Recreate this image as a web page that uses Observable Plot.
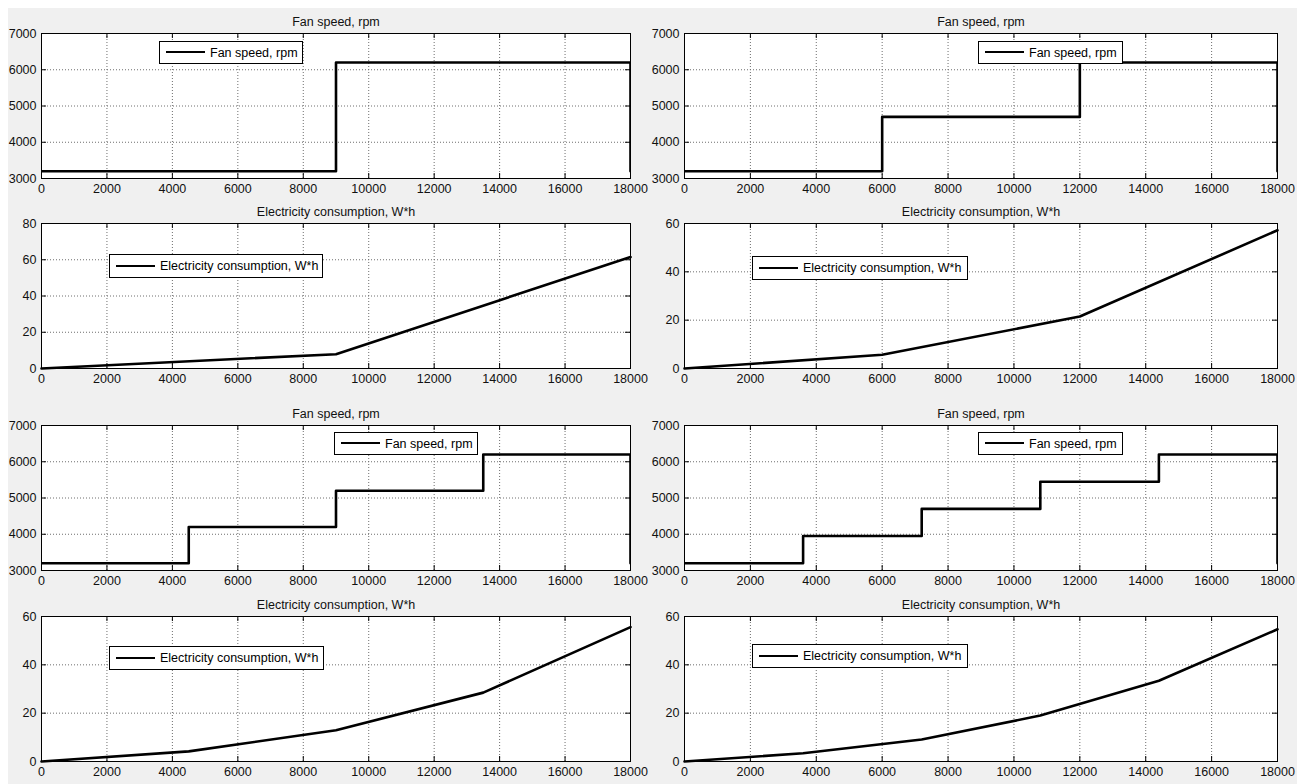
<!DOCTYPE html>
<html>
<head>
<meta charset="utf-8">
<script src="https://cdn.jsdelivr.net/npm/d3@7"></script>
<script src="https://cdn.jsdelivr.net/npm/@observablehq/plot@0.6"></script>
<style>
  html, body { margin: 0; padding: 0; background: #fff; }
  #page { position: relative; width: 1297px; height: 784px; overflow: hidden; background: #fff; }
  #bg { position: absolute; left: 8px; top: 8px; right: 0; bottom: 0; background: #f0f0f0; }
  .panel { position: absolute; }
  .legend { position: absolute; box-sizing: border-box; border: 1px solid #000; background: #fff;
            font: 12.5px "Liberation Sans", Arial, sans-serif; color: #000; }
  .legend .sw { position: absolute; left: 6px; width: 39px; top: 50%; height: 0;
                border-top: 2.5px solid #000; margin-top: -1.25px; }
  .legend .tx { position: absolute; left: 50px; top: 50%; transform: translateY(-52%);
                white-space: nowrap; line-height: 1; }
</style>
</head>
<body>
<div id="page"><div id="bg"></div></div>
<script>
// ---------- data ----------
const xTicks = [0, 2000, 4000, 6000, 8000, 10000, 12000, 14000, 16000, 18000];
const fanTicks = [3000, 4000, 5000, 6000, 7000];
const elecTicks80 = [0, 20, 40, 60, 80];
const elecTicks60 = [0, 20, 40, 60];

const fanTitle = "Fan speed, rpm";
const elecTitle = "Electricity consumption, W*h";

// Fan speed (step profiles)
const fan1X = [0, 9000, 9000, 18000, 18000];
const fan1Y = [3200, 3200, 6200, 6200, 3200];
const fan2X = [0, 6000, 6000, 12000, 12000, 18000, 18000];
const fan2Y = [3200, 3200, 4700, 4700, 6200, 6200, 3200];
const fan3X = [0, 4500, 4500, 9000, 9000, 13500, 13500, 18000, 18000];
const fan3Y = [3200, 3200, 4200, 4200, 5200, 5200, 6200, 6200, 3200];
const fan4X = [0, 3600, 3600, 7200, 7200, 10800, 10800, 14400, 14400, 18000, 18000];
const fan4Y = [3200, 3200, 3950, 3950, 4700, 4700, 5450, 5450, 6200, 6200, 3200];

// Electricity consumption (cumulative)
const elec1X = [0, 9000, 18000];
const elec1Y = [0, 7.9, 61.5];
const elec2X = [0, 6000, 12000, 18000];
const elec2Y = [0, 5.7, 21.5, 57.2];
const elec3X = [0, 4500, 9000, 13500, 18000];
const elec3Y = [0, 4.2, 12.9, 28.5, 55.6];
const elec4X = [0, 3600, 7200, 10800, 14400, 18000];
const elec4Y = [0, 3.4, 9.1, 19.0, 33.4, 54.7];

// ---------- layout ----------
const FONT = '"Liberation Sans", Arial, sans-serif';
const cols = [
  { left: 0,   width: 650, ml: 41, mr: 20 },
  { left: 650, width: 647, ml: 34, mr: 20 }
];
const frameTops = [33, 223, 425, 616];
const H = 145, MT = 33, MB = 25;

const page = document.getElementById("page");

function panel(col, row, title, xs, ys, yDomain, yTicks, clip) {
  const c = cols[col];
  const W = c.width - c.ml - c.mr;
  const data = xs.map((x, i) => ({ x, y: ys[i] }));
  const svg = Plot.plot({
    width: c.width,
    height: MT + H + MB,
    marginTop: MT, marginBottom: MB, marginLeft: c.ml, marginRight: c.mr,
    style: { background: "transparent", fontFamily: FONT, fontSize: "12.5px", color: "#111", overflow: "visible" },
    x: { domain: [0, 18000], label: null },
    y: { domain: yDomain, label: null },
    marks: [
      Plot.frame({ fill: "white" }),
      Plot.gridX(xTicks, { stroke: "#6e6e6e", strokeOpacity: 1, strokeDasharray: "1,2" }),
      Plot.gridY(yTicks, { stroke: "#6e6e6e", strokeOpacity: 1, strokeDasharray: "1,2" }),
      Plot.tickX(xTicks, { x: d => d, insetTop: H - 5, stroke: "#000" }),
      Plot.tickX(xTicks, { x: d => d, insetBottom: H - 5, stroke: "#000" }),
      Plot.tickY(yTicks, { y: d => d, insetRight: W - 5, stroke: "#000" }),
      Plot.tickY(yTicks, { y: d => d, insetLeft: W - 5, stroke: "#000" }),
      Plot.line(data, { x: "x", y: "y", stroke: "#000", strokeWidth: 2.6, clip: clip ? "frame" : null }),
      Plot.frame({ stroke: "#000" }),
      Plot.axisX(xTicks, { tickSize: 0, tickPadding: 6, tickFormat: d3.format("d"), fill: "#111" }),
      Plot.axisY(yTicks, { tickSize: 0, tickPadding: 5, tickFormat: d3.format("d"), fill: "#111" }),
      Plot.text([title], { text: d => d, frameAnchor: "top", dy: -16, fill: "#111" })
    ]
  });
  const div = document.createElement("div");
  div.className = "panel";
  div.style.left = c.left + "px";
  div.style.top = (frameTops[row] - MT) + "px";
  div.style.width = c.width + "px";
  div.appendChild(svg);
  page.appendChild(div);
}

panel(0, 0, fanTitle, fan1X, fan1Y, [3000, 7000], fanTicks, true);
panel(1, 0, fanTitle, fan2X, fan2Y, [3000, 7000], fanTicks, true);
panel(0, 1, elecTitle, elec1X, elec1Y, [0, 80], elecTicks80, false);
panel(1, 1, elecTitle, elec2X, elec2Y, [0, 60], elecTicks60, false);
panel(0, 2, fanTitle, fan3X, fan3Y, [3000, 7000], fanTicks, true);
panel(1, 2, fanTitle, fan4X, fan4Y, [3000, 7000], fanTicks, true);
panel(0, 3, elecTitle, elec3X, elec3Y, [0, 60], elecTicks60, false);
panel(1, 3, elecTitle, elec4X, elec4Y, [0, 60], elecTicks60, false);

// ---------- legends ----------
function legend(left, top, w, h, text) {
  const d = document.createElement("div");
  d.className = "legend";
  d.style.left = left + "px"; d.style.top = top + "px";
  d.style.width = w + "px"; d.style.height = h + "px";
  const sw = document.createElement("div"); sw.className = "sw";
  const tx = document.createElement("div"); tx.className = "tx"; tx.textContent = text;
  d.appendChild(sw); d.appendChild(tx);
  page.appendChild(d);
}
legend(159, 41, 144, 23, fanTitle);
legend(109, 254, 214, 24, elecTitle);
legend(978, 41, 145, 23, fanTitle);
legend(752, 256, 216, 24, elecTitle);
legend(334, 432, 144, 23, fanTitle);
legend(109, 646, 215, 24, elecTitle);
legend(978, 432, 145, 23, fanTitle);
legend(752, 644, 216, 24, elecTitle);
</script>
</body>
</html>
